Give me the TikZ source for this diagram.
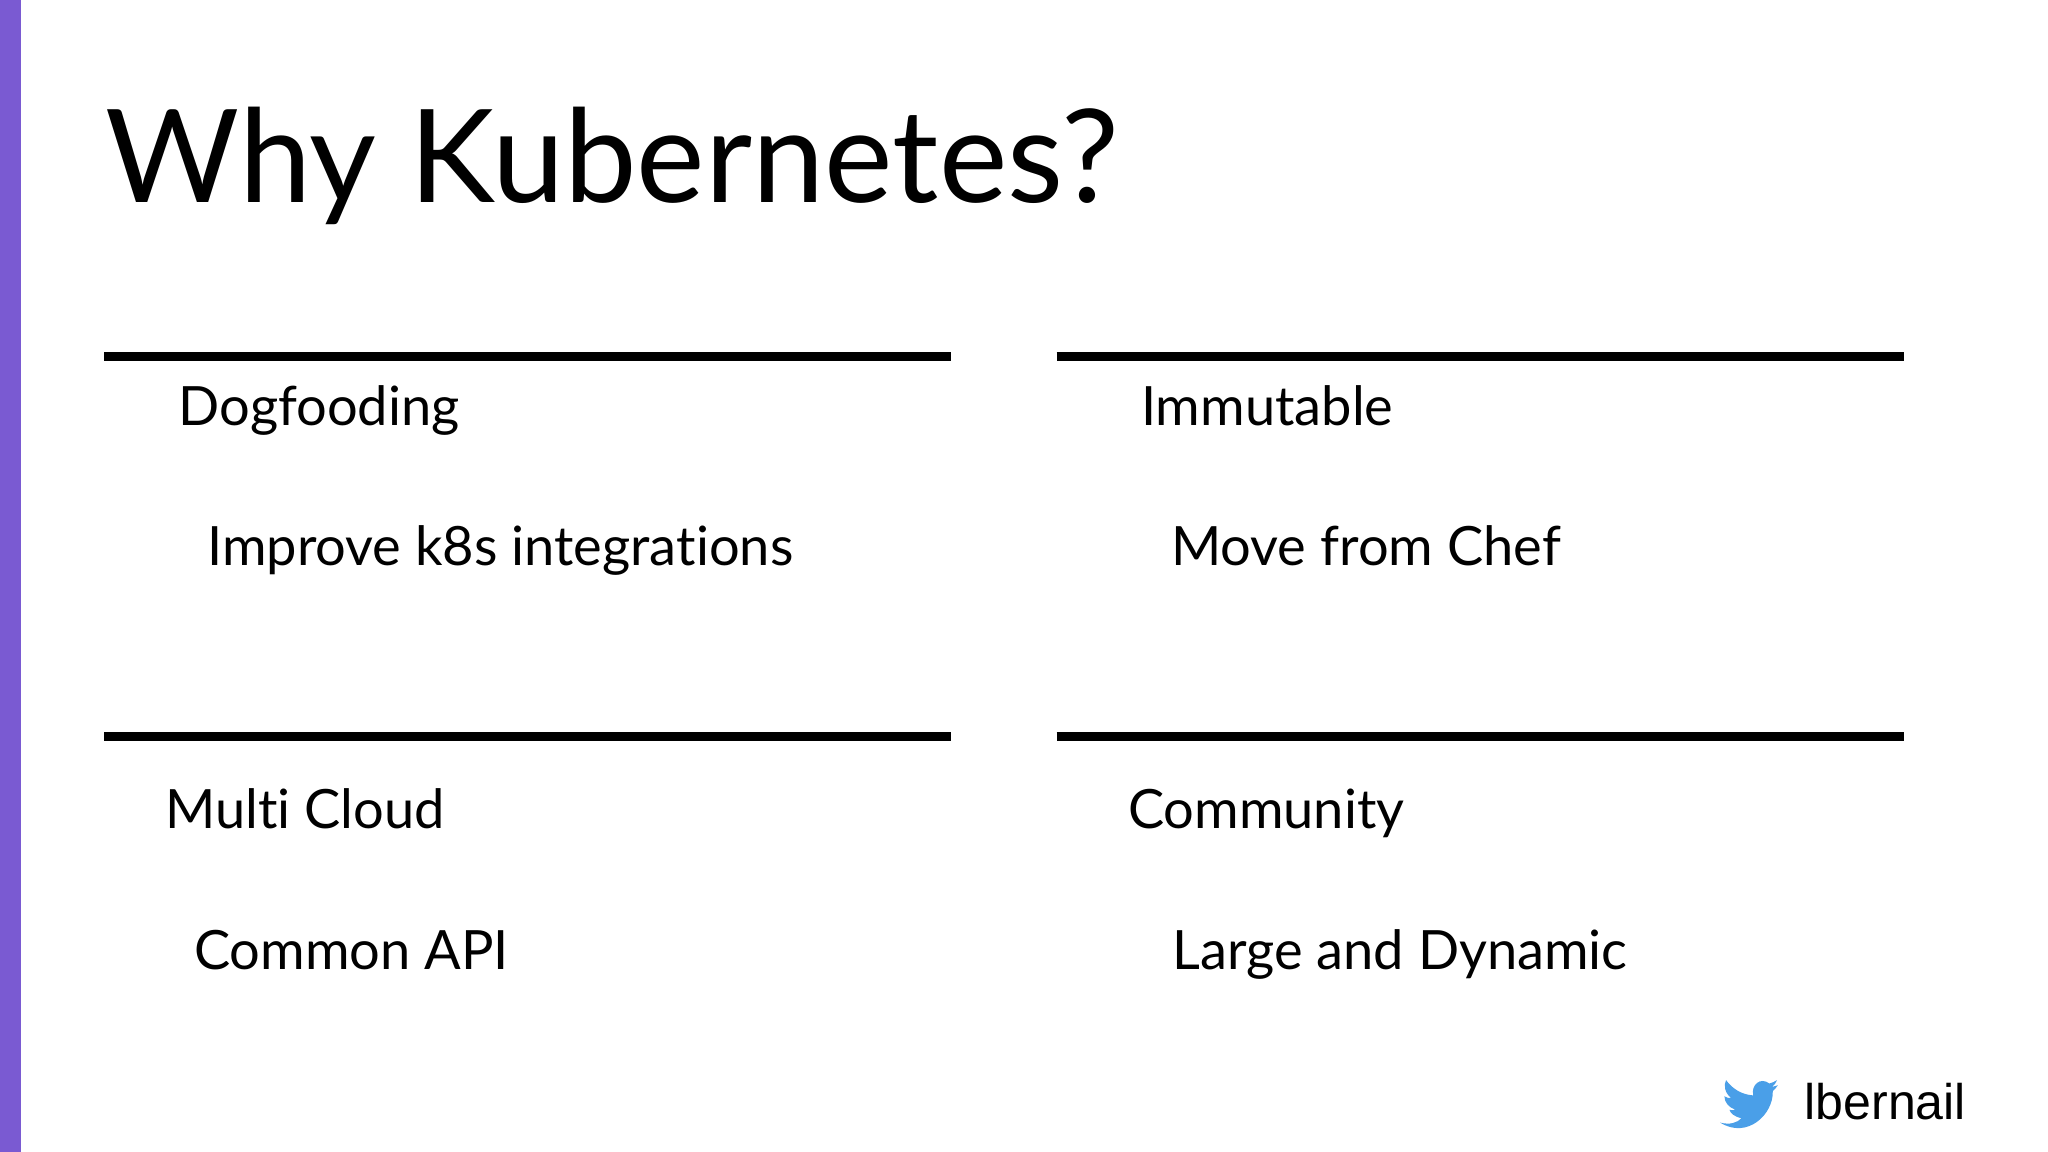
\documentclass[tikz,border=0pt]{standalone}
\usepackage{fontspec}
\setmainfont[Ligatures={NoCommon}]{Lato}
\newfontfamily\arialf{Liberation Sans}
\definecolor{barpurple}{HTML}{7A5AD2}
\definecolor{twblue}{HTML}{4A9FE8}
\begin{document}
\begin{tikzpicture}[x=0.01cm,y=-0.01cm,
  rule/.style={line width=2.1pt,black},
  head/.style={anchor=base west,inner sep=0,font=\fontsize{11.8pt}{14pt}\selectfont},
  sub/.style={anchor=base west,inner sep=0,font=\fontsize{11.8pt}{14pt}\selectfont}]
\useasboundingbox (0,0) rectangle (1568,882);
\fill[white] (0,0) rectangle (1568,882);
\fill[barpurple] (0,0) rectangle (16,882);
\node[anchor=base west,inner sep=0,font=\fontsize{28.2pt}{34pt}\selectfont] (title) at (80,155) {Why Kubernetes?};
\coordinate (l1a) at (80,273); \coordinate (l1b) at (728,273);
\coordinate (l2a) at (809,273); \coordinate (l2b) at (1458,273);
\coordinate (l3a) at (80,564); \coordinate (l3b) at (728,564);
\coordinate (l4a) at (809,564); \coordinate (l4b) at (1458,564);
\draw[rule] (l1a) -- (l1b);
\draw[rule] (l2a) -- (l2b);
\draw[rule] (l3a) -- (l3b);
\draw[rule] (l4a) -- (l4b);
\node[head] (h1) at (136,326) {Dogfooding};
\node[sub] (s1) at (158,433) {Improve k8s integrations};
\node[head] (h2) at (873,326) {Immutable};
\node[sub] (s2) at (896,433) {Move from Chef};
\node[head] (h3) at (126,634) {Multi Cloud};
\node[sub] (s3) at (148,742) {Common API};
\node[head] (h4) at (863,634) {Community};
\node[sub] (s4) at (897,742) {Large and Dynamic};
\node[anchor=base west,inner sep=0,font=\arialf\fontsize{10.9pt}{13pt}\selectfont] (tw) at (1381,857) {lbernail};
% twitter bird
\begin{scope}[shift={(460.3,310.25)},scale=0.65]
\fill[twblue] (1318,845) .. controls (1330,848) and (1338,845) .. (1343,840)
  .. controls (1335,838) and (1330,834) .. (1329,830)
  .. controls (1332,831) and (1334,830) .. (1336,830)
  .. controls (1328,827) and (1323,821) .. (1323,814)
  .. controls (1326,816) and (1328,816) .. (1331,816)
  .. controls (1323,810) and (1322,800) .. (1325,795)
  .. controls (1333,806) and (1344,812) .. (1357,813)
  .. controls (1354,800) and (1366,791) .. (1376,799)
  .. controls (1379,798) and (1382,797) .. (1385,795)
  .. controls (1384,799) and (1381,801) .. (1379,803)
  .. controls (1381,802) and (1384,802) .. (1386,801)
  .. controls (1384,804) and (1382,806) .. (1380,808)
  .. controls (1381,835) and (1350,865) .. (1318,845) -- cycle;
\end{scope}
\end{tikzpicture}
\end{document}
